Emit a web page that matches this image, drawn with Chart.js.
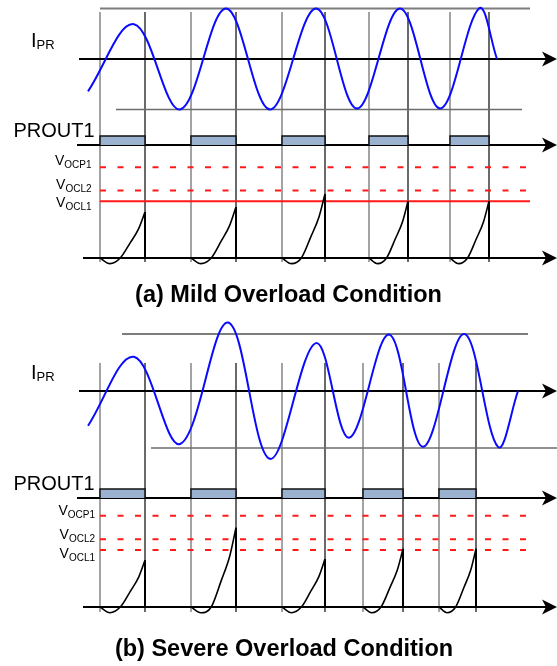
<!DOCTYPE html>
<html>
<head>
<meta charset="utf-8">
<script src="https://cdn.jsdelivr.net/npm/chart.js@4.4.1/dist/chart.umd.min.js"></script>
<style>
html, body { margin: 0; padding: 0; background: #fff; }
#wrap { width: 557px; height: 666px; }
</style>
</head>
<body>
<div id="wrap"><canvas id="chart" width="557" height="666"></canvas></div>
<script>
// ---- data (time in drawing units, levels normalised) ----
// (a) mild overload: current turning points, gate pulses, sense-ramp peaks
var pulseOnA  = [100, 191, 282, 369, 450];
var pulseOffA = [145, 236, 325, 408, 489];
var iprTimeA  = [88, 134, 180, 226, 270, 316, 357, 400, 440, 479, 497];
var iprValA   = [-0.64, 0.69, -1.0, 1.0, -1.0, 1.0, -0.98, 1.0, -0.98, 1.0, 0];
var vcsPeakA  = [0.81, 0.90, 1.13, 1.0, 1.0];

// (b) severe overload
var pulseOnB  = [100, 191, 282, 363, 439];
var pulseOffB = [145, 236, 325, 403, 476];
var iprTimeB  = [88, 134, 180, 228, 270, 316, 349, 389, 423, 464, 498, 518];
var iprValB   = [-0.61, 0.60, -0.93, 1.20, -1.19, 0.84, -0.82, 0.99, -0.98, 1.0, -0.98, 0];
var vcsPeakB  = [0.82, 1.39, 0.84, 1.02, 1.02];

// shared levels
var iprEnvelope    = [1.0, -1.0];
var thresholdNames = ['OCP1', 'OCL2', 'OCL1'];
var thresholdVals  = [1.6, 1.19, 1.0];
var proutHigh      = 1;

// shape of the sense ramp inside one on-time
var rampTimeFrac = [0, 0.22, 0.45, 0.67, 0.86, 1];
var rampPeakFrac = [0, 0, 0, 0.33, 0.64, 1];
var rampDip      = [0, -0.1, 0, 0, 0, 0];

// ---- layout ----
var W = 557, H = 666;
// zero-line pixel row and pixels per unit of each trace
var lanes = {
  ipA: [59, 50.5], prA: [145, 9], vcA: [258, 56.7],
  ipB: [391, 57],  prB: [498, 9], vcB: [607, 57]
};
var font = '"Liberation Sans", Arial, Helvetica, sans-serif';

var scales = { x: { type: 'linear', display: false, min: 0, max: W } };
Object.keys(lanes).forEach(function(k) {
  var b = lanes[k][0], g = lanes[k][1];
  scales[k] = { type: 'linear', position: 'left', display: false, min: (b - H) / g, max: b / g };
});
scales.frame = { type: 'linear', position: 'left', display: false, min: 0, max: H, reverse: true };

// notched arrow head used as a point style
var arrowHead = document.createElement('canvas');
arrowHead.width = 15; arrowHead.height = 16;
var ac = arrowHead.getContext('2d');
ac.fillStyle = '#000';
ac.beginPath(); ac.moveTo(15, 8); ac.lineTo(0, 0.5); ac.lineTo(4, 8); ac.lineTo(0, 15.5); ac.closePath(); ac.fill();

var datasets = [];
function add(ds) {
  ds.type = 'line';
  ds.pointRadius = ds.pointRadius || 0;
  ds.fill = ds.fill || false;
  ds.tension = ds.tension || 0;
  ds.order = -datasets.length;
  datasets.push(ds);
}
function seg(axis, x0, x1, y0, y1, color, width, dash) {
  add({ yAxisID: axis, data: [{x: x0, y: y0}, {x: x1, y: y1}], borderColor: color, borderWidth: width, borderDash: dash || [] });
}

function buildPanel(p) {
  var i, j;
  // edge markers
  for (i = 0; i < p.on.length; i++) {
    seg('frame', p.on[i], p.on[i], p.frame[0], p.frame[1], '#858585', 1.5);
    seg('frame', p.off[i], p.off[i], p.frame[0], p.frame[1], '#3a3a3a', 1.5);
  }
  // current envelope
  seg(p.ip, p.envTop[0], p.envTop[1], iprEnvelope[0], iprEnvelope[0], '#7d7d7d', 2);
  seg(p.ip, p.envBot[0], p.envBot[1], iprEnvelope[1], iprEnvelope[1], '#6d6d6d', 1.5);
  // axes
  seg(p.ip, p.axisFrom[0], 550, 0, 0, '#000', 2);
  seg(p.pr, p.axisFrom[1], 550, 0, 0, '#000', 2);
  seg(p.vc, p.axisFrom[2], 550, 0, 0, '#000', 2);
  // PROUT1 pulses
  for (i = 0; i < p.on.length; i++) {
    add({ yAxisID: p.pr, borderColor: '#111', borderWidth: 1.5, backgroundColor: '#9ab2cf', fill: 'origin',
      data: [{x: p.on[i], y: 0}, {x: p.on[i], y: proutHigh}, {x: p.off[i], y: proutHigh}, {x: p.off[i], y: 0}] });
  }
  // thresholds
  for (i = 0; i < thresholdVals.length; i++) {
    var dashed = p.thrDashed[i];
    seg(p.vc, 100, dashed ? 526 : 530, thresholdVals[i], thresholdVals[i], '#ff1a1a', 2, dashed ? [6, 11.5] : []);
  }
  // sense ramps
  for (i = 0; i < p.on.length; i++) {
    var w = p.off[i] - p.on[i], pts = [];
    for (j = 0; j < rampTimeFrac.length; j++) {
      pts.push({x: p.on[i] + rampTimeFrac[j] * w, y: rampPeakFrac[j] * p.peaks[i] + rampDip[j]});
    }
    add({ yAxisID: p.vc, data: pts, borderColor: '#000', borderWidth: 1.6, cubicInterpolationMode: 'monotone' });
    seg(p.vc, p.off[i], p.off[i], p.peaks[i], 0, '#000', 2);
  }
  // primary current through its turning points
  add({ yAxisID: p.ip, borderColor: '#0a0aff', borderWidth: 2, tension: 0.36,
    data: p.tI.map(function(t, k) { return {x: t, y: p.vI[k]}; }) });
  // arrow heads
  [p.ip, p.pr, p.vc].forEach(function(ax) {
    add({ yAxisID: ax, showLine: false, pointRadius: 8, pointStyle: arrowHead, data: [{x: 549.5, y: 0}] });
  });
}

buildPanel({ ip: 'ipA', pr: 'prA', vc: 'vcA', on: pulseOnA, off: pulseOffA, tI: iprTimeA, vI: iprValA, peaks: vcsPeakA,
  frame: [12, 262], envTop: [100, 530], envBot: [116, 522], axisFrom: [79, 77, 83], thrDashed: [true, true, false] });
buildPanel({ ip: 'ipB', pr: 'prB', vc: 'vcB', on: pulseOnB, off: pulseOffB, tI: iprTimeB, vI: iprValB, peaks: vcsPeakB,
  frame: [363, 612], envTop: [122, 528], envBot: [151, 557], axisFrom: [79, 77, 83], thrDashed: [true, true, true] });

function subText(ctx, x, y, main, sub, mainPx, subPx, drop, alignRight) {
  ctx.font = mainPx + 'px ' + font;
  var mw = ctx.measureText(main).width;
  ctx.font = subPx + 'px ' + font;
  var sw = ctx.measureText(sub).width;
  var x0 = alignRight ? x - mw - sw : x;
  ctx.font = mainPx + 'px ' + font;
  ctx.fillText(main, x0, y);
  ctx.font = subPx + 'px ' + font;
  ctx.fillText(sub, x0 + mw, y + drop);
}

var labelPlugin = {
  id: 'labels',
  afterDraw: function(chart) {
    var ctx = chart.ctx;
    ctx.save();
    ctx.fillStyle = '#000';
    ctx.textBaseline = 'alphabetic';
    ctx.textAlign = 'left';
    // panel (a)
    subText(ctx, 31, 46.7, 'I', 'PR', 20, 13, 2, false);
    ctx.font = '20px ' + font; ctx.fillText('PROUT1', 13.5, 136.7);
    [165, 189, 207].forEach(function(y, i) { subText(ctx, 91.5, y, 'V', thresholdNames[i], 14, 10, 3, true); });
    // panel (b)
    subText(ctx, 31, 379, 'I', 'PR', 20, 13, 2, false);
    ctx.font = '20px ' + font; ctx.fillText('PROUT1', 13.5, 490);
    [515, 539.3, 558.3].forEach(function(y, i) { subText(ctx, 95, y, 'V', thresholdNames[i], 14, 10, 3, true); });
    // captions
    ctx.textAlign = 'center';
    ctx.font = 'bold 23.5px ' + font;
    ctx.fillText('(a) Mild Overload Condition', 288.5, 301.7);
    ctx.fillText('(b) Severe Overload Condition', 284, 656);
    ctx.restore();
  }
};

new Chart(document.getElementById('chart'), {
  type: 'line',
  data: { datasets: datasets },
  options: {
    responsive: false,
    animation: false,
    events: [],
    layout: { padding: 0, autoPadding: false },
    scales: scales,
    plugins: { legend: { display: false }, tooltip: { enabled: false }, title: { display: false } }
  },
  plugins: [labelPlugin]
});
</script>
</body>
</html>
